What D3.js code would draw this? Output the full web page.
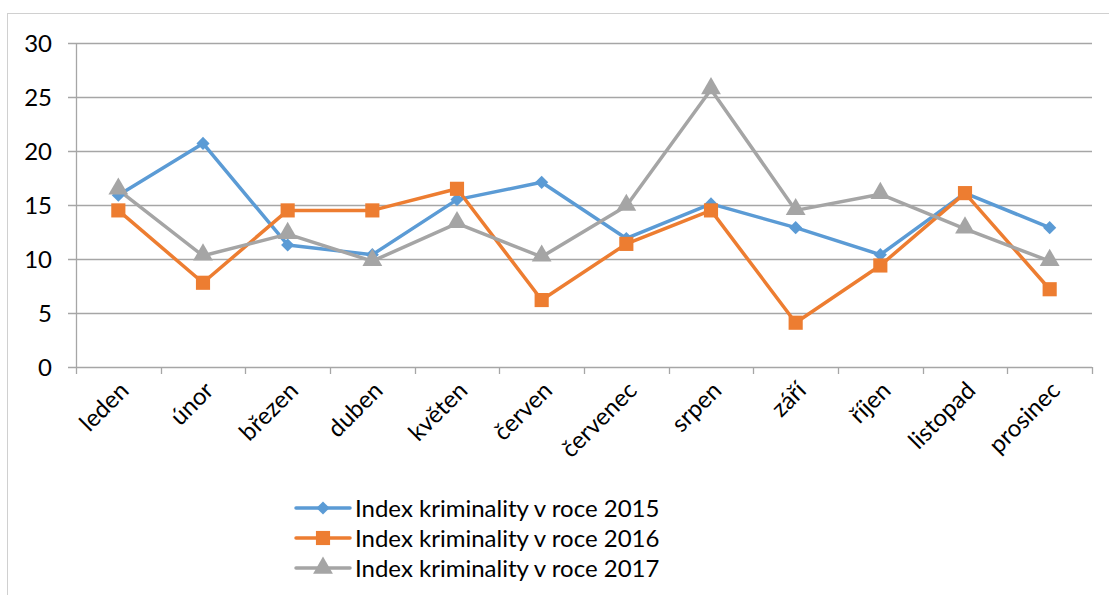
<!DOCTYPE html>
<html>
<head>
<meta charset="utf-8">
<script src="https://cdn.jsdelivr.net/npm/d3@7"></script>
<style>
  body { margin: 0; background: #fff; }
  svg { display: block; font-family: Lato, "Open Sans", sans-serif; }
</style>
</head>
<body>
<script>
// data
var months = ['leden', 'únor', 'březen', 'duben', 'květen', 'červen', 'červenec', 'srpen', 'září', 'říjen', 'listopad', 'prosinec'];
var values2015 = [15.9, 20.7, 11.3, 10.4, 15.5, 17.1, 11.9, 15.1, 12.9, 10.4, 16.1, 12.9];
var values2016 = [14.5, 7.8, 14.5, 14.5, 16.5, 6.2, 11.4, 14.5, 4.1, 9.4, 16.1, 7.2];
var values2017 = [16.4, 10.3, 12.3, 9.8, 13.3, 10.2, 14.9, 25.7, 14.5, 16.0, 12.8, 9.8];
var yTicks = [0, 5, 10, 15, 20, 25, 30];

var series = [
    { name: 'Index kriminality v roce 2015', values: values2015, color: '#5B9BD5', marker: 'diamond' },
    { name: 'Index kriminality v roce 2016', values: values2016, color: '#ED7D31', marker: 'square' },
    { name: 'Index kriminality v roce 2017', values: values2017, color: '#A5A5A5', marker: 'triangle' },
];

// chart
var W = 1109, H = 595;
var margin = { top: 43, right: 17, bottom: 228, left: 76 };
var width = W - margin.left - margin.right;
var height = H - margin.top - margin.bottom;
var fontSize = 24;

var svg = d3.select('body')
    .append('svg')
    .attr('width', W)
    .attr('height', H);

// outer frame
svg.append('rect')
    .attr('x', 7.5)
    .attr('y', 13.5)
    .attr('width', 1200)
    .attr('height', 700)
    .attr('fill', 'none')
    .attr('stroke', '#d0d0d0')
    .attr('stroke-width', 1);

var g = svg.append('g')
    .attr('transform', 'translate(' + margin.left + ',' + margin.top + ')');

var x = d3.scaleBand().domain(months).range([0, width]);
var y = d3.scaleLinear().domain([0, 30]).range([height, 0]);

// gridlines
g.selectAll('.grid')
    .data(yTicks).enter()
    .append('line')
    .attr('x1', -8)
    .attr('x2', width)
    .attr('y1', function (d) { return Math.round(y(d)) + 0.5; })
    .attr('y2', function (d) { return Math.round(y(d)) + 0.5; })
    .attr('stroke', '#a6a6a6')
    .attr('stroke-width', 1.3);

// y labels
g.selectAll('.ylab')
    .data(yTicks).enter()
    .append('text')
    .attr('x', -24)
    .attr('y', function (d) { return y(d); })
    .attr('dy', '0.36em')
    .attr('text-anchor', 'end')
    .attr('font-size', fontSize)
    .attr('fill', '#000')
    .text(function (d) { return d; });

// y axis line
g.append('line')
    .attr('x1', 0.5).attr('x2', 0.5)
    .attr('y1', 0).attr('y2', height)
    .attr('stroke', '#a6a6a6')
    .attr('stroke-width', 1.3);

// x ticks
var xTickPos = months.map(function (m) { return x(m); }).concat([width]);
g.selectAll('.xtick')
    .data(xTickPos).enter()
    .append('line')
    .attr('x1', function (d) { return Math.round(d) + 0.5; })
    .attr('x2', function (d) { return Math.round(d) + 0.5; })
    .attr('y1', height)
    .attr('y2', height + 7)
    .attr('stroke', '#a6a6a6')
    .attr('stroke-width', 1.3);

// x labels
g.selectAll('.xlab')
    .data(months).enter()
    .append('text')
    .attr('transform', function (d) {
        return 'translate(' + (x(d) + x.bandwidth() / 2 + 6) + ',' + (height + 19) + ') rotate(-45)';
    })
    .attr('text-anchor', 'end')
    .attr('dy', '0.35em')
    .attr('font-size', fontSize)
    .attr('fill', '#000')
    .text(function (d) { return d; });

function markerPath(type) {
    if (type === 'diamond') return d3.symbol().type(d3.symbolDiamond2).size(110)();
    if (type === 'square') return d3.symbol().type(d3.symbolSquare).size(200)();
    return d3.symbol().type(d3.symbolTriangle).size(170)();
}

var line = d3.line()
    .x(function (d, i) { return x(months[i]) + x.bandwidth() / 2; })
    .y(function (d) { return y(d); });

series.forEach(function (s) {
    g.append('path')
        .datum(s.values)
        .attr('d', line)
        .attr('fill', 'none')
        .attr('stroke', s.color)
        .attr('stroke-width', 3.5)
        .attr('stroke-linejoin', 'round');
});

series.forEach(function (s) {
    g.selectAll(null)
        .data(s.values).enter()
        .append('path')
        .attr('d', markerPath(s.marker))
        .attr('transform', function (d, i) {
            var dy = s.marker === 'triangle' ? -1 : 0;
            return 'translate(' + (x(months[i]) + x.bandwidth() / 2) + ',' + (y(d) + dy) + ')';
        })
        .attr('fill', s.color);
});

// legend
var legend = svg.append('g').attr('transform', 'translate(296,508)');
series.forEach(function (s, i) {
    var row = legend.append('g').attr('transform', 'translate(0,' + (i * 30) + ')');
    row.append('line')
        .attr('x1', 0).attr('x2', 54)
        .attr('y1', 0).attr('y2', 0)
        .attr('stroke', s.color)
        .attr('stroke-width', 3.5)
        .attr('stroke-linecap', 'round');
    row.append('path')
        .attr('d', markerPath(s.marker))
        .attr('transform', 'translate(27,0)')
        .attr('fill', s.color);
    row.append('text')
        .attr('x', 59)
        .attr('y', 0)
        .attr('dy', '0.36em')
        .attr('font-size', fontSize)
        .attr('fill', '#000')
        .text(s.name);
});
</script>
</body>
</html>
